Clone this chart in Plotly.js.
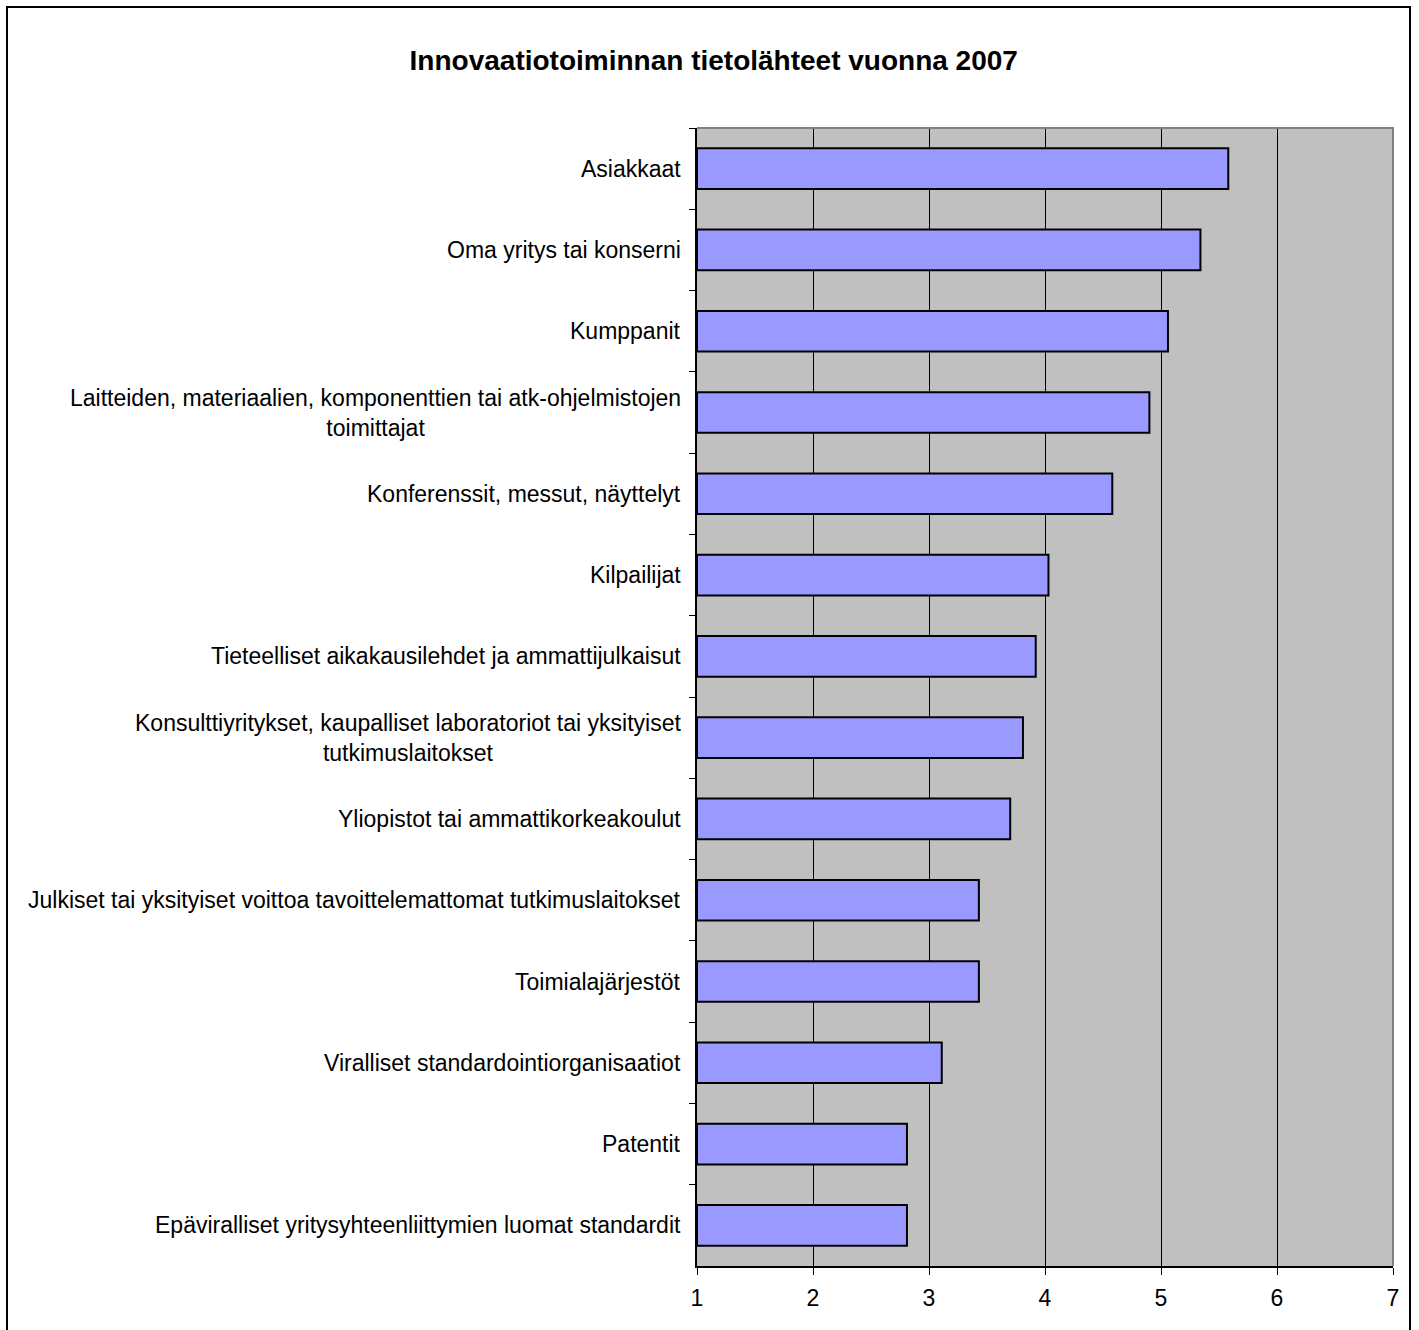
<!DOCTYPE html>
<html>
<head>
<meta charset="utf-8">
<script src="https://cdn.plot.ly/plotly-3.0.1.min.js"></script>
<style>
  html, body { margin: 0; padding: 0; background: #fff; }
  #wrap { position: relative; width: 1419px; height: 1330px; overflow: hidden; }
  #frame { position: absolute; left: 6px; top: 6px; width: 1405px; height: 1400px;
           border: 2px solid #000; box-sizing: border-box; pointer-events: none; }
  #chart { position: absolute; left: 0; top: 0; width: 1419px; height: 1330px; }
</style>
</head>
<body>
<div id="wrap">
  <div id="chart"></div>
  <div id="frame"></div>
</div>
<script>
// Innovation information sources, mean importance score (scale 1–7)
const categories = [
  "Asiakkaat",
  "Oma yritys tai konserni",
  "Kumppanit",
  "Laitteiden, materiaalien, komponenttien tai atk-ohjelmistojen<br>toimittajat",
  "Konferenssit, messut, näyttelyt",
  "Kilpailijat",
  "Tieteelliset aikakausilehdet ja ammattijulkaisut",
  "Konsulttiyritykset, kaupalliset laboratoriot tai yksityiset<br>tutkimuslaitokset",
  "Yliopistot tai ammattikorkeakoulut",
  "Julkiset tai yksityiset voittoa tavoittelemattomat tutkimuslaitokset",
  "Toimialajärjestöt",
  "Viralliset standardointiorganisaatiot",
  "Patentit",
  "Epäviralliset yritysyhteenliittymien luomat standardit"
];
const scores = [5.58, 5.34, 5.06, 4.90, 4.58, 4.03, 3.92, 3.81, 3.70, 3.43, 3.43, 3.11, 2.81, 2.81];
const xTicks = [1, 2, 3, 4, 5, 6, 7];
const axisMin = 1;

const FONT = "Liberation Sans, Arial, sans-serif";

// Bars start at the axis minimum (1), as in the classic spreadsheet chart
const trace = {
  type: "bar",
  orientation: "h",
  y: categories,
  base: axisMin,
  x: scores.map(v => v - axisMin),
  width: 0.5,
  marker: { color: "#9999FF", line: { color: "#000000", width: 2 } },
  hoverinfo: "skip"
};

const labelAnnotations = categories.map(c => ({
  xref: "paper", yref: "y",
  x: 0, y: c,
  xanchor: "right", yanchor: "middle",
  xshift: -14,
  text: c,
  align: "center",
  showarrow: false,
  font: { family: FONT, size: 23, color: "#000" }
}));

const layout = {
  width: 1419,
  height: 1330,
  margin: { l: 697, r: 26, t: 128, b: 64 },
  paper_bgcolor: "#ffffff",
  plot_bgcolor: "#C0C0C0",
  showlegend: false,
  title: {
    text: "<b>Innovaatiotoiminnan tietolähteet vuonna 2007</b>",
    font: { family: FONT, size: 28, color: "#000" },
    x: 0.503, xanchor: "center",
    y: 0.955, yanchor: "middle"
  },
  xaxis: {
    range: [1, 7],
    tickvals: xTicks,
    ticktext: xTicks.map(String),
    ticks: "outside",
    ticklen: 7,
    tickwidth: 1,
    tickcolor: "#000",
    ticklabelstandoff: 3,
    showgrid: true,
    gridcolor: "#000",
    gridwidth: 1,
    showline: true,
    linecolor: "#000",
    linewidth: 2,
    zeroline: false,
    tickfont: { family: FONT, size: 23, color: "#000" },
    fixedrange: true
  },
  yaxis: {
    type: "category",
    autorange: "reversed",
    categoryorder: "array",
    categoryarray: categories,
    showticklabels: false,
    ticks: "outside",
    tickson: "boundaries",
    ticklen: 6,
    tickwidth: 1,
    tickcolor: "#000",
    showgrid: false,
    showline: true,
    linecolor: "#000",
    linewidth: 2,
    zeroline: false,
    fixedrange: true
  },
  shapes: [{
    type: "path",
    xref: "paper", yref: "paper",
    path: "M 0,1 L 1,1 L 1,0",
    line: { color: "#808080", width: 2 },
    layer: "above"
  }],
  annotations: labelAnnotations,
  bargap: 0.5
};

Plotly.newPlot("chart", [trace], layout, { displayModeBar: false, staticPlot: true });
</script>
</body>
</html>
